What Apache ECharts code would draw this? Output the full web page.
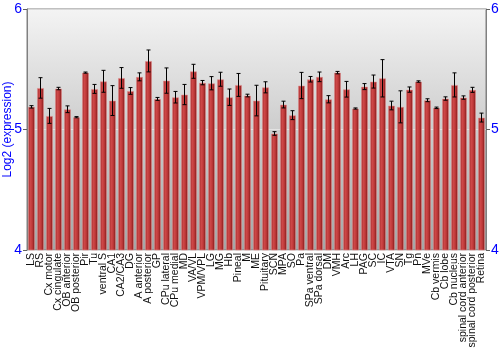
<!DOCTYPE html>
<html>
<head>
<meta charset="utf-8">
<script src="https://cdn.jsdelivr.net/npm/echarts@6/dist/echarts.min.js"></script>
<style>html,body{margin:0;padding:0;background:#fff}#c{width:500px;height:350px}</style>
</head>
<body>
<div id="c"></div>
<script>
var categories = ["LS","RS","Cx motor","Cx cingulate","OB anterior","OB posterior","Pir","Tu","ventral S","CA1","CA2/CA3","DG","A anterior","A posterior","GP","CPu lateral","CPu medial","MD","VA/VL","VPM/VPL","LG","MG","Hb","Pineal","M","ME","Pituitary","SCN","MPA","SO","Pa","SPa ventral","SPa dorsal","DM","VMH","Arc","LH","PAG","SC","IC","VTA","SN","Tg","Pn","MVe","Cb vermis","Cb lobe","Cb nucleus","spinal cord anterior","spinal cord posterior","Retina"];
var values = [5.188,5.345,5.113,5.340,5.168,5.102,5.472,5.337,5.400,5.240,5.428,5.320,5.437,5.569,5.254,5.406,5.268,5.290,5.483,5.389,5.384,5.417,5.268,5.370,5.282,5.240,5.350,4.967,5.207,5.119,5.365,5.417,5.437,5.251,5.472,5.334,5.174,5.356,5.398,5.425,5.199,5.188,5.331,5.398,5.243,5.180,5.257,5.370,5.265,5.329,5.099];
var errors = [0.010,0.085,0.062,0.010,0.028,0.005,0.005,0.037,0.091,0.124,0.086,0.028,0.033,0.091,0.012,0.105,0.048,0.084,0.058,0.018,0.055,0.058,0.068,0.095,0.011,0.127,0.046,0.015,0.028,0.037,0.109,0.023,0.040,0.030,0.010,0.065,0.005,0.025,0.054,0.155,0.036,0.133,0.022,0.006,0.012,0.006,0.014,0.100,0.014,0.021,0.037];
var yTicks = [4,5,6];

var errData = values.map(function(v,i){return [i, v-errors[i], v+errors[i]];});
var chart = echarts.init(document.getElementById('c'));
var axisCommon = {
  type:'value', min:4, max:6, interval:1,
  axisLine:{show:true,lineStyle:{color:'#808080'}},
  axisTick:{show:true,length:4,lineStyle:{color:'#606060'}},
  axisLabel:{color:'#0000ff',fontSize:14,fontFamily:'Liberation Sans',margin:5,
    formatter:function(v){return yTicks.indexOf(v)>=0?String(v):'';}},
  splitLine:{show:true,lineStyle:{color:'rgba(255,255,255,0.45)',width:1}}
};
chart.setOption({
  animation:false,
  grid:{left:27,right:14,top:9,bottom:100,outerBoundsMode:'none',containLabel:false,show:true,borderColor:'#808080',borderWidth:1,
    backgroundColor:new echarts.graphic.LinearGradient(0,0,0,1,[{offset:0,color:'#f4f4f4'},{offset:1,color:'#a6a6a6'}])},
  xAxis:{type:'category',data:categories,
    axisLine:{show:false},axisTick:{show:false},
    axisLabel:{interval:0,rotate:90,fontSize:10.5,color:'#111',fontFamily:'Liberation Sans',margin:3}},
  yAxis:[
    Object.assign({},axisCommon,{position:'left',name:'Log2 (expression)',nameLocation:'middle',nameGap:13,nameMoveOverlap:false,
      nameTextStyle:{color:'#0000ff',fontSize:12,fontFamily:'Liberation Sans'}}),
    Object.assign({},axisCommon,{position:'right',splitLine:{show:false}})
  ],
  series:[
    {type:'bar',data:values,barCategoryGap:'22%',
      itemStyle:{borderColor:'rgba(230,140,140,0.55)',borderWidth:1,
        color:new echarts.graphic.LinearGradient(0,0,1,0,[
        {offset:0,color:'#8e1c1c'},{offset:0.3,color:'#cf4a4a'},{offset:0.6,color:'#c03a3a'},{offset:1,color:'#761414'}])}},
    {type:'custom',data:errData,z:10,
      renderItem:function(params,api){
        var x=api.value(0);
        var lo=api.coord([x,api.value(1)]);
        var hi=api.coord([x,api.value(2)]);
        var c=2;
        var st={stroke:'#000',lineWidth:1};
        return {type:'group',children:[
          {type:'line',shape:{x1:lo[0],y1:lo[1],x2:hi[0],y2:hi[1]},style:st},
          {type:'line',shape:{x1:lo[0]-c,y1:lo[1],x2:lo[0]+c,y2:lo[1]},style:st},
          {type:'line',shape:{x1:hi[0]-c,y1:hi[1],x2:hi[0]+c,y2:hi[1]},style:st}
        ]};
      }}
  ]
});
</script>
</body>
</html>
